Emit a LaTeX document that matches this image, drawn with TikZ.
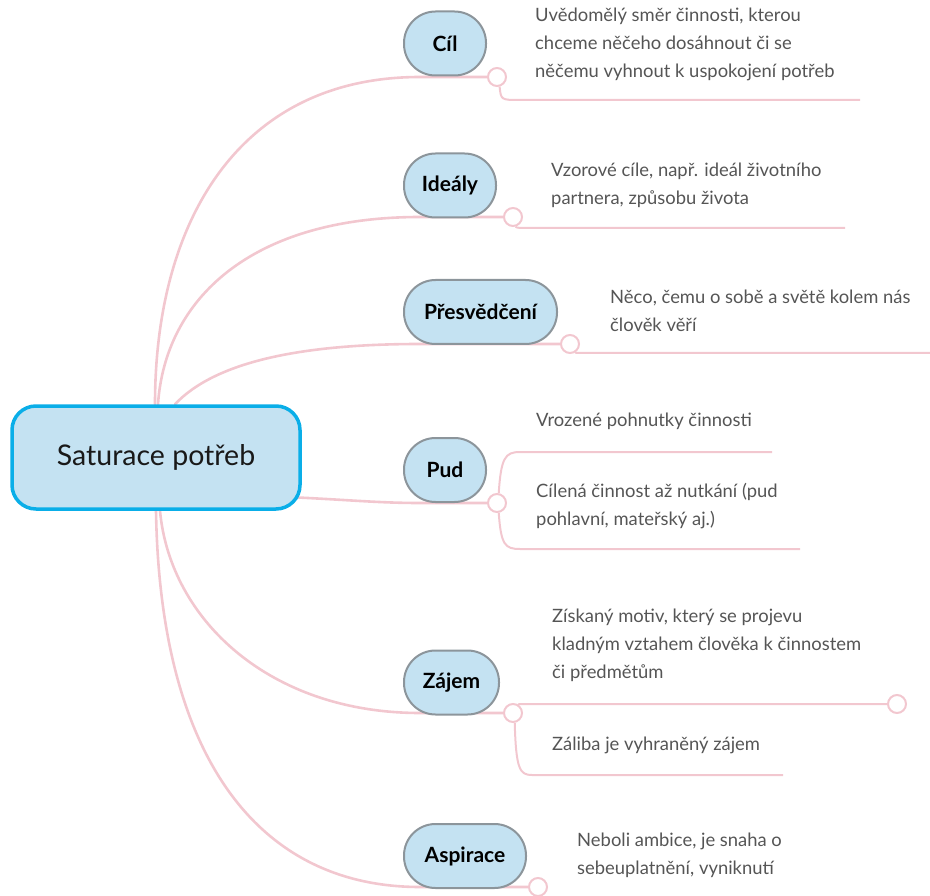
\documentclass[tikz,border=0pt]{standalone}
\usepackage{fontspec}
\setmainfont{Lato}
\usetikzlibrary{calc}
\definecolor{pinkline}{HTML}{F2C7CF}
\definecolor{topicfill}{HTML}{C4E2F2}
\definecolor{topicline}{HTML}{8C959B}
\definecolor{rootline}{HTML}{0AAEE8}
\definecolor{notegray}{HTML}{555555}
\pgfdeclarelayer{bg}
\pgfsetlayers{bg,main}

\begin{document}
\begin{tikzpicture}[x=1pt,y=-1pt,
  rootbox/.style={draw=rootline, line width=3.5pt, fill=topicfill, rounded corners=24pt,
    minimum width=288pt, minimum height=103pt, inner sep=0pt,
    font=\fontsize{28.5}{34}\selectfont, text=black!90},
  topic/.style={draw=topicline, line width=2pt, fill=topicfill, rounded corners=31.5pt,
    minimum height=64pt, inner sep=0pt, font=\fontsize{21}{25}\selectfont\bfseries},
  knob/.style={circle, draw=pinkline, line width=2pt, fill=white, minimum size=18pt, inner sep=0pt},
  note/.style={anchor=west, align=left, inner sep=0pt, text=notegray,
    font=\fontsize{18.4}{28}\selectfont},
  branch/.style={draw=pinkline, line width=2.6pt, line cap=round},
  twig/.style={draw=pinkline, line width=2pt}
]
\useasboundingbox (0,0) rectangle (930,896);

% central node
\node[rootbox] (root) at (156,457.5) {Saturace potřeb};

% topics
\node[topic, minimum width=82pt]  (cil)   at (445,43.5)  {Cíl};
\node[topic, minimum width=92pt]  (ideal) at (450,185.5) {Ideály};
\node[topic, minimum width=153pt] (pres)  at (480.5,312) {Přesvědčení};
\node[topic, minimum width=82pt]  (pud)   at (445,470)   {Pud};
\node[topic, minimum width=95pt]  (zajem) at (451.5,682.5) {Zájem};
\node[topic, minimum width=122pt] (asp)   at (465,856)   {Aspirace};

% knobs at the end of each topic line
\node[knob] (kcil)   at (497,77)  {};
\node[knob] (kideal) at (513,217) {};
\node[knob] (kpres)  at (570,344) {};
\node[knob] (kpud)   at (497,503) {};
\node[knob] (kzaj)   at (513,713) {};
\node[knob] (kasp)   at (538,887) {};
\node[knob] (kzajend) at (897,704) {};

% line ends under the notes
\coordinate (ecil)   at (860,100);
\coordinate (eideal) at (845,228);
\coordinate (epres)  at (930,353);
\coordinate (epud1)  at (772,452);
\coordinate (epud2)  at (800,549);
\coordinate (ezaj2)  at (783,775);

% notes
\node[note] (tcil) at (535,44) {Uvědomělý směr činnosti, kterou\\chceme něčeho dosáhnout či se\\něčemu vyhnout k uspokojení potřeb};
\node[note] (tideal) at (551,185.5) {Vzorové cíle, např. ideál životního\\partnera, způsobu života};
\node[note] (tpres) at (610,310.5) {Něco, čemu o sobě a světě kolem nás\\člověk věří};
\node[note] (tpud1) at (536,421) {Vrozené pohnutky činnosti};
\node[note] (tpud2) at (536,506) {Cílená činnost až nutkání (pud\\pohlavní, mateřský aj.)};
\node[note] (tzaj1) at (552,645) {Získaný motiv, který se projevu\\kladným vztahem člověka k činnostem\\či předmětům};
\node[note] (tzaj2) at (552,745) {Záliba je vyhraněný zájem};
\node[note] (tasp) at (577,855.5) {Neboli ambice, je snaha o\\sebeuplatnění, vyniknutí};

\begin{pgfonlayer}{bg}
  % branches from the central node
  \draw[branch] ($(root.north)+(-1,0)$) .. controls (155,220) and (240,77) .. (420,77) -- (kcil);
  \draw[branch] ($(root.north)+(2,0)$) .. controls (165,300) and (250,217) .. (420,217) -- (kideal);
  \draw[branch] ($(root.north)+(19,0)$) .. controls (215,362) and (300,344) .. (420,344) -- (kpres);
  \draw[branch] ($(root.east)+(-4,40)$) .. controls (350,500) and (380,503) .. (420,503) -- (kpud);
  \draw[branch] ($(root.south)+(4,0)$) .. controls (170,620) and (270,713) .. (420,713) -- (kzaj);
  \draw[branch] ($(root.south)+(0,0)$) .. controls (160,760) and (260,887) .. (420,887) -- (kasp);

  % lines under the notes
  \draw[twig] (kcil.-75) .. controls (501,100) .. (520,100) -- (ecil);
  \draw[twig] (kideal.-75) .. controls (517,228) .. (535,228) -- (eideal);
  \draw[twig] (kpres.-60) .. controls (576,353) .. (592,353) -- (epres);
  \draw[twig] (kpud.80) .. controls (501,458) and (505,452) .. (520,452) -- (epud1);
  \draw[twig] (kpud.-80) .. controls (501,545) and (505,549) .. (520,549) -- (epud2);
  \draw[twig] (kzaj.60) .. controls (520,704) .. (532,704) -- (kzajend);
  \draw[twig] (kzaj.-80) .. controls (516,770) and (520,775) .. (532,775) -- (ezaj2);
\end{pgfonlayer}
\end{tikzpicture}
\end{document}
